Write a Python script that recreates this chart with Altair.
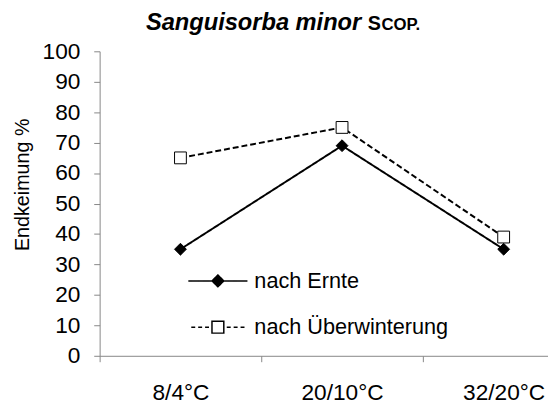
import altair as alt
import pandas as pd

# ---- data ----
categories = ["8/4°C", "20/10°C", "32/20°C"]
series_names = ["nach Ernte", "nach Überwinterung"]
nach_ernte = [35, 69, 35]
nach_ueberwinterung = [65, 75, 39]
y_ticks = [0, 10, 20, 30, 40, 50, 60, 70, 80, 90, 100]
title_species = "Sanguisorba minor"
title_author_initial = "S"
title_author_rest = "COP."
y_title = "Endkeimung %"

rows = []
for s, vals in zip(series_names, [nach_ernte, nach_ueberwinterung]):
    for c, v in zip(categories, vals):
        rows.append({"Temperatur": c, "Serie": s, "Endkeimung": v})
df = pd.DataFrame(rows)

FONT = "Liberation Sans"
AXIS_GRAY = "#868686"

x_enc = alt.X(
    "Temperatur:N",
    sort=categories,
    scale=alt.Scale(type="band", domain=categories, range=[0, 492],
                    paddingInner=0, paddingOuter=0),
    axis=alt.Axis(title=None, labelAngle=0, tickBand="extent", tickSize=6,
                  tickColor=AXIS_GRAY, domainColor=AXIS_GRAY, tickWidth=1,
                  domainWidth=1, labelFontSize=23, labelFont=FONT,
                  labelColor="black", labelPadding=20),
)
y_enc = alt.Y(
    "Endkeimung:Q",
    scale=alt.Scale(domain=[0, 100], nice=False),
    axis=alt.Axis(values=y_ticks, title=y_title, grid=False, tickSize=6,
                  tickColor=AXIS_GRAY, domainColor=AXIS_GRAY, tickWidth=1,
                  domainWidth=1, labelFontSize=23, labelFont=FONT,
                  labelColor="black", labelPadding=14,
                  titleFont=FONT, titleFontSize=20, titleFontWeight="normal",
                  titleColor="black", titleX=-68, titleY=135),
)

lines = alt.Chart(df).mark_line(color="black", strokeWidth=2).encode(
    x=x_enc,
    y=y_enc,
    strokeDash=alt.StrokeDash("Serie:N",
                              scale=alt.Scale(domain=series_names, range=[[1, 0], [6, 3]]),
                              legend=None),
)

points = alt.Chart(df).mark_point(filled=True, size=144, stroke="black",
                                  strokeWidth=1, opacity=1).encode(
    x=x_enc,
    y=y_enc,
    shape=alt.Shape("Serie:N",
                    scale=alt.Scale(domain=series_names, range=["diamond", "square"]),
                    legend=None),
    fill=alt.Fill("Serie:N",
                  scale=alt.Scale(domain=series_names, range=["black", "white"]),
                  legend=None),
)

# legend symbols: line with marker in the middle
legend_shapes = [
    "M-1,0L0,-1L1,0L0,1Z M-5,0H-1 M1,0H5",
    "M-1,0V-1H1V0H5 M1,0V1H-1V0H-5",
]
legend_layer = alt.Chart(df).transform_filter("false").mark_point(
    filled=True, size=144, strokeWidth=1.5, opacity=1
).encode(
    shape=alt.Shape("Serie:N",
                    scale=alt.Scale(domain=series_names, range=legend_shapes),
                    legend=alt.Legend(title=None, orient="none", legendX=109, legendY=222,
                                      labelFontSize=22, labelFont=FONT, labelColor="black",
                                      labelOffset=26, labelLimit=400, rowPadding=25,
                                      symbolSize=144, symbolStrokeColor="black",
                                      symbolStrokeWidth=1.5, symbolOpacity=1, padding=0)),
    fill=alt.Fill("Serie:N", scale=alt.Scale(domain=series_names, range=["black", "white"])),
    stroke=alt.Stroke("Serie:N", scale=alt.Scale(domain=series_names, range=["black", "black"])),
    strokeDash=alt.StrokeDash("Serie:N",
                              scale=alt.Scale(domain=series_names,
                                              range=[[1, 0], [24, 3, 4, 3, 4, 3, 4, 3]])),
)

one = alt.Data(values=[{"k": 1}])
t1 = alt.Chart(one).mark_text(text=title_species, font=FONT, fontSize=24, fontStyle="italic",
                              fontWeight="bold", align="left", baseline="alphabetic",
                              color="black").encode(x=alt.value(47), y=alt.value(-22))
t2 = alt.Chart(one).mark_text(text=title_author_initial, font=FONT, fontSize=20,
                              fontWeight="bold", align="left", baseline="alphabetic",
                              color="black").encode(x=alt.value(272), y=alt.value(-22))
t3 = alt.Chart(one).mark_text(text=title_author_rest, font=FONT, fontSize=17,
                              fontWeight="bold", align="left", baseline="alphabetic",
                              color="black").encode(x=alt.value(286), y=alt.value(-22))

chart = alt.layer(lines, points, legend_layer, t1, t2, t3).resolve_scale(
    shape="independent", fill="independent", stroke="independent",
    strokeDash="independent"
).properties(
    width=455, height=309,
    autosize=alt.AutoSizeParams(type="none"),
    padding={"left": 93, "top": 41, "right": 0, "bottom": 48},
).configure_view(stroke=None)

chart.save("out.html", embed_options={"renderer": "svg", "actions": False})
